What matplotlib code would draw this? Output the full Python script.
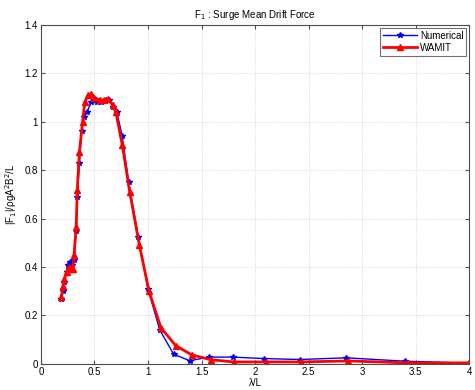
import matplotlib
matplotlib.use("Agg")
import matplotlib.pyplot as plt

plt.rcParams['font.family'] = ['Liberation Sans', 'DejaVu Sans']

# Numerical results (lambda/L, non-dimensional mean drift force)
num_x = [0.19, 0.21, 0.22, 0.24, 0.25, 0.27, 0.29, 0.31, 0.33, 0.34, 0.36, 0.38,
         0.40, 0.43, 0.47, 0.52, 0.56, 0.61, 0.64, 0.67, 0.71, 0.76, 0.82, 0.91,
         1.00, 1.11, 1.24, 1.39, 1.57, 1.79, 2.08, 2.42, 2.85, 3.40, 4.00]
num_y = [0.27, 0.30, 0.34, 0.38, 0.41, 0.42, 0.41, 0.43, 0.55, 0.69, 0.83, 0.96,
         1.02, 1.04, 1.08, 1.08, 1.08, 1.09, 1.09, 1.06, 1.04, 0.94, 0.75, 0.525,
         0.31, 0.14, 0.04, 0.013, 0.028, 0.028, 0.022, 0.018, 0.025, 0.011, 0.003]

# WAMIT results
wam_x = [0.19, 0.21, 0.22, 0.24, 0.26, 0.28, 0.30, 0.31, 0.33, 0.34, 0.36, 0.39,
         0.41, 0.44, 0.47, 0.50, 0.55, 0.59, 0.63, 0.67, 0.70, 0.76, 0.83, 0.92,
         1.01, 1.12, 1.26, 1.41, 1.59, 1.80, 2.10, 2.43, 2.87, 3.43, 4.00]
wam_y = [0.277, 0.32, 0.35, 0.38, 0.40, 0.39, 0.39, 0.45, 0.566, 0.72, 0.875, 1.00,
         1.08, 1.11, 1.115, 1.10, 1.09, 1.09, 1.095, 1.07, 1.04, 0.905, 0.71, 0.49,
         0.30, 0.15, 0.075, 0.037, 0.017, 0.008, 0.008, 0.008, 0.012, 0.004, 0.004]

fig = plt.figure(figsize=(4.75, 3.9), dpi=100)
ax = fig.add_axes([0.086, 0.067, 0.902, 0.869])

ax.plot(num_x, num_y, color='blue', lw=1.0, marker='*', ms=4, label='Numerical')
ax.plot(wam_x, wam_y, color='red', lw=2.0, marker='^', ms=5, label='WAMIT')

ax.set_xlim(0, 4)
ax.set_ylim(0, 1.4)
ax.set_xticks([0, 0.5, 1, 1.5, 2, 2.5, 3, 3.5, 4])
ax.set_xticklabels(['0', '0.5', '1', '1.5', '2', '2.5', '3', '3.5', '4'])
ax.set_yticks([0, 0.2, 0.4, 0.6, 0.8, 1, 1.2, 1.4])
ax.set_yticklabels(['0', '0.2', '0.4', '0.6', '0.8', '1', '1.2', '1.4'])
ax.tick_params(direction='in', top=True, right=True, labelsize=7, length=3,
               pad=2, color='0.3')
ax.grid(True, ls=':', color='0.8', lw=0.6)
for s in ax.spines.values():
    s.set_color('0.3')
    s.set_linewidth(0.8)

ax.set_title('F$_1$ : Surge Mean Drift Force', fontsize=7, pad=5)
ax.set_xlabel('λ/L', fontsize=7, labelpad=1)
ax.set_ylabel('|F$_1$|/ρgA$^2$B$^2$/L', fontsize=7, labelpad=4)

leg = ax.legend(loc='upper right', fontsize=7, fancybox=False, edgecolor='0.3',
                handlelength=3.5, borderpad=0.3, labelspacing=0.2,
                borderaxespad=0.3, handletextpad=0.3)
leg.get_frame().set_linewidth(0.8)

fig.savefig('out.png', dpi=100)
